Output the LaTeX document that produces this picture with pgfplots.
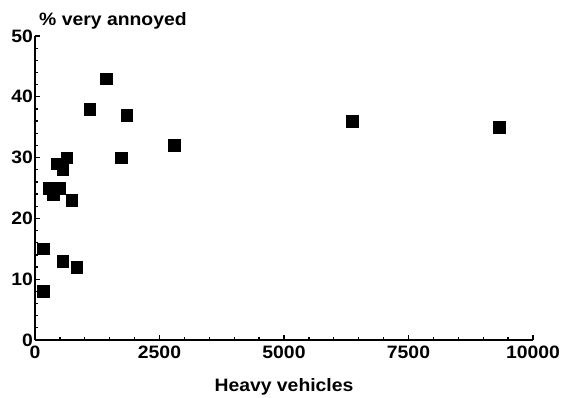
\documentclass[border=0pt]{standalone}
\usepackage{fontspec}
\setmainfont{Liberation Sans}[BoldFeatures={FakeStretch=1.08}]
\usepackage{pgfplots}
\pgfplotsset{compat=1.18}

\pgfplotstableread{
x y
160 8
160 15
280 25
480 25
360 24
440 29
560 28
640 30
740 23
560 13
840 12
1100 38
1425 43
1725 30
1845 37
2790 32
6365 36
9317 35
}\annoyed

\begin{document}
\begin{tikzpicture}
\begin{axis}[
  scale only axis,
  width=498bp, height=304bp,
  at={(0,0)}, anchor=south west,
  xmin=0, xmax=10000, ymin=0, ymax=50,
  axis x line=bottom, axis y line=left,
  axis line style={-, line width=1.8bp},
  xtick={0,2500,5000,7500,10000},
  ytick={0,10,20,30,40,50},
  minor x tick num=4, minor y tick num=4,
  tick align=inside,
  major tick length=5bp, minor tick length=3bp,
  every tick/.style={black, line width=1.3bp},
  scaled x ticks=false,
  /pgf/number format/1000 sep={},
  /pgf/number format/assume math mode=true,
  tick label style={font=\fontsize{18}{21}\selectfont\bfseries},
  xticklabel style={inner sep=1pt, yshift=-5bp},
  yticklabel style={inner sep=1pt, xshift=-1bp},
  clip=false,
]
\addplot[only marks, mark=square*, mark size=5.8bp, black,
  mark options={rounded corners=1.5bp}] table[x=x, y=y] {\annoyed};
\node[anchor=base west, inner sep=0pt, font=\fontsize{18}{21}\selectfont\bfseries]
  at (axis description cs:0,1) [xshift=4bp, yshift=10bp] {\% very annoyed};
\node[anchor=base, inner sep=0pt, font=\fontsize{18}{21}\selectfont\bfseries]
  at (axis description cs:0.5,0) [yshift=-51bp] {Heavy vehicles};
\end{axis}
\pgfresetboundingbox
\path (-35bp,-58bp) rectangle (528bp,340bp);
\end{tikzpicture}
\end{document}
